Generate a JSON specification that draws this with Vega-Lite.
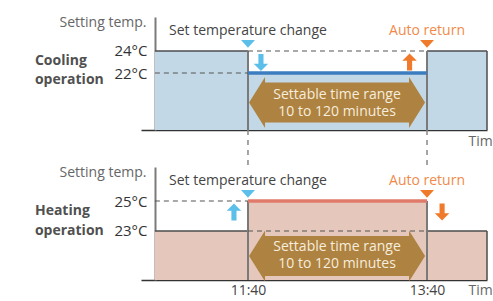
{
  "$schema": "https://vega.github.io/schema/vega-lite/v6.json",
  "autosize": {"type": "none"},
  "padding": {"left": 141, "top": 17, "right": 352, "bottom": 284},
  "bounds": "flush",
  "spacing": 37,
  "resolve": {"scale": {"y": "independent"}},
  "config": {
    "font": "Open Sans",
    "view": {"stroke": null},
    "axis": {"grid": false, "ticks": false}
  },
  "vconcat": [
    {
      "width": 346,
      "height": 113,
      "layer": [
        {
          "data": {"values": [
            {"a": 637.6, "b": 700, "lo": 16.82, "hi": 24},
            {"a": 700, "b": 820, "lo": 16.82, "hi": 22},
            {"a": 820, "b": 860.2, "lo": 16.82, "hi": 24}
          ]},
          "mark": {"type": "rect", "color": "#c3d8e6"},
          "encoding": {
            "x": {"field": "a", "type": "quantitative", "scale": {"domain": [628.3, 860.2], "nice": false, "zero": false},
              "axis": {"labels": false, "domainColor": "#333", "domainWidth": 1.5, "title": "Time", "titleX": 327, "titleY": 11, "titleAlign": "left", "titleBaseline": "middle", "titleFontSize": 14, "titleFontWeight": "normal", "titleColor": "#666"}},
            "x2": {"field": "b"},
            "y": {"field": "hi", "type": "quantitative", "scale": {"domain": [16.82, 27.09], "nice": false, "zero": false},
              "axis": {"values": [22, 24], "labelExpr": "datum.value + '°C'", "labelFontSize": 15, "labelColor": "#333", "labelPadding": 8, "offset": -14, "domainColor": "#7a7a7a", "domainWidth": 2, "title": "Setting temp.", "titleAngle": 0, "titleAlign": "right", "titleBaseline": "middle", "titleX": -9, "titleY": 5, "titleFontSize": 14, "titleFontWeight": "normal", "titleColor": "#666"}},
            "y2": {"field": "lo"}
          }
        },
        {
          "data": {"values": [
            {"a": 637.6, "b": 700, "lo": 24, "hi": 24},
            {"a": 820, "b": 860.2, "lo": 24, "hi": 24},
            {"a": 860.2, "b": 860.2, "lo": 16.82, "hi": 24}
          ]},
          "mark": {"type": "rule", "color": "#4d4d4d", "strokeWidth": 1.5},
          "encoding": {
            "x": {"field": "a", "type": "quantitative"}, "x2": {"field": "b"},
            "y": {"field": "hi", "type": "quantitative"}, "y2": {"field": "lo"}
          }
        },
        {
          "data": {"values": [
            {"a": 700, "lo": 16.82, "hi": 24},
            {"a": 820, "lo": 16.82, "hi": 24}
          ]},
          "mark": {"type": "rule", "color": "#7a7a7a", "strokeWidth": 2},
          "encoding": {
            "x": {"field": "a", "type": "quantitative"},
            "y": {"field": "hi", "type": "quantitative"}, "y2": {"field": "lo"}
          }
        },
        {
          "data": {"values": [
            {"a": 700, "b": 820, "v": 24},
            {"a": 637.6, "b": 700, "v": 22}
          ]},
          "mark": {"type": "rule", "color": "#555", "strokeWidth": 1.2, "strokeDash": [5, 4]},
          "encoding": {
            "x": {"field": "a", "type": "quantitative"}, "x2": {"field": "b"},
            "y": {"field": "v", "type": "quantitative"}
          }
        },
        {
          "data": {"values": [{"a": 700, "b": 820, "v": 22}]},
          "mark": {"type": "rule", "color": "#3b7dbf", "strokeWidth": 3.5},
          "encoding": {
            "x": {"field": "a", "type": "quantitative"}, "x2": {"field": "b"},
            "y": {"field": "v", "type": "quantitative"}
          }
        },
        {
          "data": {"values": [
            {"a": 700, "lo": 13.36, "hi": 16.82},
            {"a": 820, "lo": 13.36, "hi": 16.82}
          ]},
          "mark": {"type": "rule", "color": "#888", "strokeWidth": 1.5, "strokeDash": [5, 5]},
          "encoding": {
            "x": {"field": "a", "type": "quantitative"},
            "y": {"field": "hi", "type": "quantitative"}, "y2": {"field": "lo"}
          }
        },
        {
          "data": {"values": [{"t": 759.7, "v": 19.32}]},
          "mark": {"type": "point", "filled": true, "opacity": 1, "color": "#ae8240", "size": 2500,
            "shape": "M-3.52,0L-2.88,-1.02L-2.88,-0.8L2.88,-0.8L2.88,-1.02L3.52,0L2.88,1.02L2.88,0.8L-2.88,0.8L-2.88,1.02Z"},
          "encoding": {
            "x": {"field": "t", "type": "quantitative"},
            "y": {"field": "v", "type": "quantitative"}
          }
        },
        {
          "data": {"values": [
            {"t": 759.7, "v": 20.045, "label": "Settable time range"},
            {"t": 759.7, "v": 18.5, "label": "10 to 120 minutes"}
          ]},
          "mark": {"type": "text", "color": "#f6eddd", "fontSize": 14, "baseline": "middle"},
          "encoding": {
            "x": {"field": "t", "type": "quantitative"},
            "y": {"field": "v", "type": "quantitative"},
            "text": {"field": "label"}
          }
        },
        {
          "data": {"values": [{"t": 700, "v": 24.64}]},
          "mark": {"type": "point", "filled": true, "opacity": 1, "color": "#5bbfea", "size": 196, "shape": "M-1,-0.55L1,-0.55L0,0.55Z"},
          "encoding": {"x": {"field": "t", "type": "quantitative"}, "y": {"field": "v", "type": "quantitative"}}
        },
        {
          "data": {"values": [{"t": 820, "v": 24.64}]},
          "mark": {"type": "point", "filled": true, "opacity": 1, "color": "#f07a2c", "size": 196, "shape": "M-1,-0.55L1,-0.55L0,0.55Z"},
          "encoding": {"x": {"field": "t", "type": "quantitative"}, "y": {"field": "v", "type": "quantitative"}}
        },
        {
          "data": {"values": [{"t": 708.7, "v": 22.95}]},
          "mark": {"type": "point", "filled": true, "opacity": 1, "color": "#5bbfea", "size": 289, "shape": "M-0.3,-1L0.3,-1L0.3,0.15L0.85,0.15L0,1L-0.85,0.15L-0.3,0.15Z"},
          "encoding": {"x": {"field": "t", "type": "quantitative"}, "y": {"field": "v", "type": "quantitative"}}
        },
        {
          "data": {"values": [{"t": 808.3, "v": 23.0}]},
          "mark": {"type": "point", "filled": true, "opacity": 1, "color": "#f07a2c", "size": 289, "shape": "M-0.3,1L0.3,1L0.3,-0.15L0.85,-0.15L0,-1L-0.85,-0.15L-0.3,-0.15Z"},
          "encoding": {"x": {"field": "t", "type": "quantitative"}, "y": {"field": "v", "type": "quantitative"}}
        },
        {
          "data": {"values": [{"t": 700, "v": 25.82, "label": "Set temperature change"}]},
          "mark": {"type": "text", "color": "#444", "fontSize": 14, "baseline": "middle"},
          "encoding": {"x": {"field": "t", "type": "quantitative"}, "y": {"field": "v", "type": "quantitative"}, "text": {"field": "label"}}
        },
        {
          "data": {"values": [{"t": 820, "v": 25.82, "label": "Auto return"}]},
          "mark": {"type": "text", "color": "#f08a4b", "fontSize": 14, "baseline": "middle"},
          "encoding": {"x": {"field": "t", "type": "quantitative"}, "y": {"field": "v", "type": "quantitative"}, "text": {"field": "label"}}
        },
        {
          "data": {"values": [{"t": 557.2, "v": 23.09, "label": "Cooling\noperation"}]},
          "mark": {"type": "text", "color": "#505050", "fontSize": 14, "fontWeight": "bold", "align": "left", "baseline": "middle", "lineBreak": "\n", "lineHeight": 19},
          "encoding": {"x": {"field": "t", "type": "quantitative"}, "y": {"field": "v", "type": "quantitative"}, "text": {"field": "label"}}
        }
      ]
    },
    {
      "width": 346,
      "height": 113,
      "layer": [
        {
          "data": {"values": [
            {"a": 637.6, "b": 700, "lo": 19.733, "hi": 23},
            {"a": 700, "b": 820, "lo": 19.733, "hi": 25},
            {"a": 820, "b": 860.2, "lo": 19.733, "hi": 23}
          ]},
          "mark": {"type": "rect", "color": "#e5c7bb"},
          "encoding": {
            "x": {"field": "a", "type": "quantitative", "scale": {"domain": [628.3, 860.2], "nice": false, "zero": false},
              "axis": {"values": [700, 820], "labelExpr": "floor(datum.value / 60) + ':' + (datum.value % 60 < 10 ? '0' : '') + (datum.value % 60)", "labelFontSize": 14, "labelColor": "#444", "labelPadding": 3, "domainColor": "#333", "domainWidth": 1.5, "title": "Time", "titleX": 327, "titleY": 10, "titleAlign": "left", "titleBaseline": "middle", "titleFontSize": 14, "titleFontWeight": "normal", "titleColor": "#666"}},
            "x2": {"field": "b"},
            "y": {"field": "hi", "type": "quantitative", "scale": {"domain": [19.733, 27.267], "nice": false, "zero": false},
              "axis": {"values": [23, 25], "labelExpr": "datum.value + '°C'", "labelFontSize": 15, "labelColor": "#333", "labelPadding": 8, "offset": -14, "domainColor": "#7a7a7a", "domainWidth": 2, "title": "Setting temp.", "titleAngle": 0, "titleAlign": "right", "titleBaseline": "middle", "titleX": -9, "titleY": 5, "titleFontSize": 14, "titleFontWeight": "normal", "titleColor": "#666"}},
            "y2": {"field": "lo"}
          }
        },
        {
          "data": {"values": [
            {"a": 637.6, "b": 700, "lo": 23, "hi": 23},
            {"a": 820, "b": 860.2, "lo": 23, "hi": 23},
            {"a": 860.2, "b": 860.2, "lo": 19.733, "hi": 23}
          ]},
          "mark": {"type": "rule", "color": "#4d4d4d", "strokeWidth": 1.5},
          "encoding": {
            "x": {"field": "a", "type": "quantitative"}, "x2": {"field": "b"},
            "y": {"field": "hi", "type": "quantitative"}, "y2": {"field": "lo"}
          }
        },
        {
          "data": {"values": [
            {"a": 700, "lo": 19.733, "hi": 25},
            {"a": 820, "lo": 19.733, "hi": 25}
          ]},
          "mark": {"type": "rule", "color": "#7a7a7a", "strokeWidth": 2},
          "encoding": {
            "x": {"field": "a", "type": "quantitative"},
            "y": {"field": "hi", "type": "quantitative"}, "y2": {"field": "lo"}
          }
        },
        {
          "data": {"values": [
            {"a": 700, "b": 820, "v": 23},
            {"a": 637.6, "b": 700, "v": 25}
          ]},
          "mark": {"type": "rule", "color": "#555", "strokeWidth": 1.2, "strokeDash": [5, 4]},
          "encoding": {
            "x": {"field": "a", "type": "quantitative"}, "x2": {"field": "b"},
            "y": {"field": "v", "type": "quantitative"}
          }
        },
        {
          "data": {"values": [{"a": 700, "b": 820, "v": 25}]},
          "mark": {"type": "rule", "color": "#e07b6b", "strokeWidth": 3.5},
          "encoding": {
            "x": {"field": "a", "type": "quantitative"}, "x2": {"field": "b"},
            "y": {"field": "v", "type": "quantitative"}
          }
        },
        {
          "data": {"values": [{"t": 759.7, "v": 21.33}]},
          "mark": {"type": "point", "filled": true, "opacity": 1, "color": "#ae8240", "size": 2500,
            "shape": "M-3.52,0L-2.88,-1.02L-2.88,-0.8L2.88,-0.8L2.88,-1.02L3.52,0L2.88,1.02L2.88,0.8L-2.88,0.8L-2.88,1.02Z"},
          "encoding": {
            "x": {"field": "t", "type": "quantitative"},
            "y": {"field": "v", "type": "quantitative"}
          }
        },
        {
          "data": {"values": [
            {"t": 759.7, "v": 21.9, "label": "Settable time range"},
            {"t": 759.7, "v": 20.767, "label": "10 to 120 minutes"}
          ]},
          "mark": {"type": "text", "color": "#f6eddd", "fontSize": 14, "baseline": "middle"},
          "encoding": {
            "x": {"field": "t", "type": "quantitative"},
            "y": {"field": "v", "type": "quantitative"},
            "text": {"field": "label"}
          }
        },
        {
          "data": {"values": [{"t": 700, "v": 25.47}]},
          "mark": {"type": "point", "filled": true, "opacity": 1, "color": "#5bbfea", "size": 196, "shape": "M-1,-0.55L1,-0.55L0,0.55Z"},
          "encoding": {"x": {"field": "t", "type": "quantitative"}, "y": {"field": "v", "type": "quantitative"}}
        },
        {
          "data": {"values": [{"t": 820, "v": 25.47}]},
          "mark": {"type": "point", "filled": true, "opacity": 1, "color": "#f07a2c", "size": 196, "shape": "M-1,-0.55L1,-0.55L0,0.55Z"},
          "encoding": {"x": {"field": "t", "type": "quantitative"}, "y": {"field": "v", "type": "quantitative"}}
        },
        {
          "data": {"values": [{"t": 690.6, "v": 24.27}]},
          "mark": {"type": "point", "filled": true, "opacity": 1, "color": "#5bbfea", "size": 289, "shape": "M-0.3,1L0.3,1L0.3,-0.15L0.85,-0.15L0,-1L-0.85,-0.15L-0.3,-0.15Z"},
          "encoding": {"x": {"field": "t", "type": "quantitative"}, "y": {"field": "v", "type": "quantitative"}}
        },
        {
          "data": {"values": [{"t": 830.1, "v": 24.27}]},
          "mark": {"type": "point", "filled": true, "opacity": 1, "color": "#f07a2c", "size": 289, "shape": "M-0.3,-1L0.3,-1L0.3,0.15L0.85,0.15L0,1L-0.85,0.15L-0.3,0.15Z"},
          "encoding": {"x": {"field": "t", "type": "quantitative"}, "y": {"field": "v", "type": "quantitative"}}
        },
        {
          "data": {"values": [{"t": 700, "v": 26.33, "label": "Set temperature change"}]},
          "mark": {"type": "text", "color": "#444", "fontSize": 14, "baseline": "middle"},
          "encoding": {"x": {"field": "t", "type": "quantitative"}, "y": {"field": "v", "type": "quantitative"}, "text": {"field": "label"}}
        },
        {
          "data": {"values": [{"t": 820, "v": 26.33, "label": "Auto return"}]},
          "mark": {"type": "text", "color": "#f08a4b", "fontSize": 14, "baseline": "middle"},
          "encoding": {"x": {"field": "t", "type": "quantitative"}, "y": {"field": "v", "type": "quantitative"}, "text": {"field": "label"}}
        },
        {
          "data": {"values": [{"t": 557.2, "v": 24.33, "label": "Heating\noperation"}]},
          "mark": {"type": "text", "color": "#505050", "fontSize": 14, "fontWeight": "bold", "align": "left", "baseline": "middle", "lineBreak": "\n", "lineHeight": 20},
          "encoding": {"x": {"field": "t", "type": "quantitative"}, "y": {"field": "v", "type": "quantitative"}, "text": {"field": "label"}}
        }
      ]
    }
  ]
}
